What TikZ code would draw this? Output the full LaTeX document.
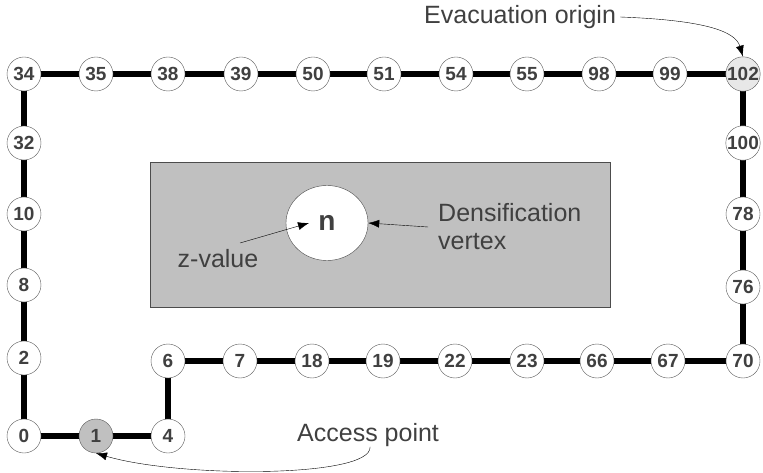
\documentclass[tikz,border=0pt]{standalone}
\usepackage{fontspec}
\setmainfont{Liberation Sans}
\usetikzlibrary{arrows.meta,backgrounds,shapes.geometric}
\definecolor{txtgray}{HTML}{404040}
\definecolor{boxgray}{HTML}{C0C0C0}
\definecolor{origgray}{HTML}{E8E8E8}
\tikzstyle{vertex}=[circle,draw=black!65,fill=white,minimum size=34pt,inner sep=0pt,font=\fontsize{19}{19}\selectfont\bfseries,text=txtgray]
\tikzstyle{track}=[line width=6.5pt,black,line join=miter]
\tikzstyle{annot}=[font=\fontsize{25}{28}\selectfont,text=txtgray,inner sep=0pt]
\tikzstyle{pointer}=[-{Latex[length=11pt,width=8pt]},thin,black]

\begin{document}
\begin{tikzpicture}[x=1pt,y=-1pt]
        \useasboundingbox (0,0) rectangle (763,473);
        % shaded area with the densification vertex
        \draw[draw=black!70,fill=boxgray] (150,162) rectangle (610,307);
        \node (n) at (327,223) [ellipse,draw=black!70,fill=white,minimum width=82pt,minimum height=75pt,inner sep=0pt,font=\fontsize{28}{28}\selectfont\bfseries,text=txtgray] {n};
        % vertices
        \foreach \v/\x in {34/24,35/96,38/168,39/241,50/313,51/384,54/456,55/527,98/599,99/670}
          \node[vertex] (v\v) at (\x,74) {\v};
        \node[vertex,fill=origgray] (v102) at (743,74) {102};
        \foreach \v/\y in {32/143,10/214,8/285,2/358,0/436}
          \node[vertex] (v\v) at (24,\y) {\v};
        \foreach \v/\y in {100/143,78/214,76/287}
          \node[vertex] (v\v) at (743,\y) {\v};
        \foreach \v/\x in {6/168,7/240,18/312,19/383,22/455,23/527,66/597,67/668,70/743}
          \node[vertex] (v\v) at (\x,361) {\v};
        \node[vertex,fill=boxgray] (v1) at (96,436) {1};
        \node[vertex] (v4) at (168,436) {4};
        % the route
        \begin{scope}[on background layer]
        \draw[track] (v34.center) -- (v35.center) -- (v38.center) -- (v39.center) -- (v50.center) -- (v51.center) -- (v54.center) -- (v55.center) -- (v98.center) -- (v99.center) -- (v102.center) -- (v100.center) -- (v78.center) -- (v76.center) -- (v70.center) -- (v67.center) -- (v66.center) -- (v23.center) -- (v22.center) -- (v19.center) -- (v18.center) -- (v7.center) -- (v6.center) -- (v4.center) -- (v1.center) -- (v0.center) -- (v2.center) -- (v8.center) -- (v10.center) -- (v32.center) -- cycle;
        \end{scope}
        % labels
        \node[annot,anchor=west] (origin) at (424,17) {Evacuation origin};
        \node[annot,anchor=west] (access) at (297,435) {Access point};
        \node[annot,anchor=west,align=left] (dens) at (438,227) {Densification\\vertex};
        \node[annot] (zval) at (218,259) {z-value};
        \draw[pointer] (origin.east) ++(4,0) coordinate (o1) (o1) .. controls (700,20) and (735,30) .. (v102.north);
        \draw[pointer] (access.south) ++(2,0) coordinate (a1) (a1) .. controls (372,478) and (180,478) .. (v1.south);
        \draw[pointer] ([xshift=-10]dens.west) -- (n.east);
        \draw[pointer] ([shift={(22,-16)}]zval.center) -- ([xshift=-18]n.center);
      \end{tikzpicture}
\end{document}
